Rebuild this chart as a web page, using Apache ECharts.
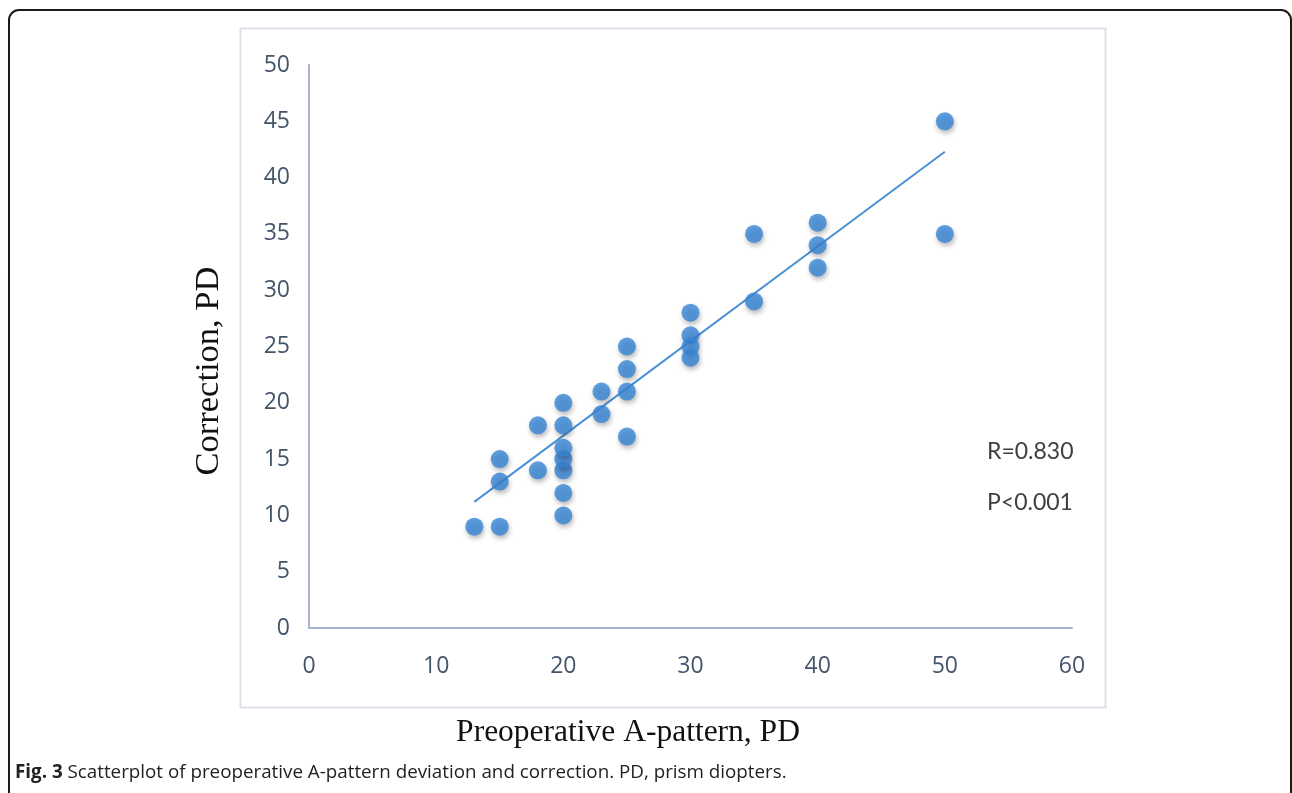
<!DOCTYPE html>
<html>
<head>
<meta charset="utf-8">
<script src="https://cdn.jsdelivr.net/npm/echarts@6/dist/echarts.min.js"></script>
<style>
html,body{margin:0;padding:0;background:#fff;}
#main{width:1292px;height:793px;}
</style>
</head>
<body>
<div id="main"></div>
<script>
// Data
const preopDeviation = [13,15,15,15,18,18,20,20,20,20,20,20,20,23,23,25,25,25,25,30,30,30,30,35,35,40,40,40,50,50];
const correction     = [9, 9, 13,15,14,18,10,12,14,15,16,18,20,21,19,25,23,21,17,28,26,25,24,29,35,36,34,32,45,35];
const trendX = [13, 50];
const trendY = [11.2, 42.3];
const xTicks = [0,10,20,30,40,50,60];
const yTicks = [0,5,10,15,20,25,30,35,40,45,50];
const statsText = ['R=0.830', 'P<0.001'];
const captionBold = 'Fig. 3';
const captionText = ' Scatterplot of preoperative A-pattern deviation and correction. PD, prism diopters.';
const xTitle = 'Preoperative A-pattern, PD';
const yTitle = 'Correction, PD';

const points = preopDeviation.map((x, i) => [x, correction[i]]);
const trend = trendX.map((x, i) => [x, trendY[i]]);

const chart = echarts.init(document.getElementById('main'), null, {renderer: 'canvas'});
const axisColor = '#a8b1cf';
const labelColor = '#44546a';
chart.setOption({
  animation: false,
  backgroundColor: '#fff',
  grid: {left: 309, right: 220, top: 65, bottom: 165, containLabel: false},
  xAxis: {
    type: 'value', min: xTicks[0], max: xTicks[xTicks.length - 1], interval: 10,
    axisLine: {show: true, lineStyle: {color: axisColor, width: 2}},
    axisTick: {show: false},
    splitLine: {show: false},
    axisLabel: {color: labelColor, fontSize: 23, fontFamily: 'Open Sans', margin: 27}
  },
  yAxis: {
    type: 'value', min: yTicks[0], max: yTicks[yTicks.length - 1], interval: 5,
    axisLine: {show: true, lineStyle: {color: axisColor, width: 2}},
    axisTick: {show: false},
    splitLine: {show: false},
    axisLabel: {color: labelColor, fontSize: 23, fontFamily: 'Open Sans', margin: 19}
  },
  series: [
    {
      type: 'line', data: trend, symbol: 'none', z: 2,
      lineStyle: {color: '#4a90d6', width: 2}
    },
    {
      type: 'scatter', data: points, symbol: 'circle', symbolSize: 18, z: 3,
      itemStyle: {
        color: '#3685d6',
        shadowColor: 'rgba(0,0,0,0.35)', shadowBlur: 5, shadowOffsetX: 1, shadowOffsetY: 3
      }
    }
  ],
  graphic: [
    {type: 'rect', shape: {x: 9, y: 10, width: 1282, height: 820, r: 10},
     style: {fill: 'none', stroke: '#1a1a1a', lineWidth: 2}, z: 0, silent: true},
    {type: 'rect', shape: {x: 240.5, y: 28.5, width: 865, height: 679},
     style: {fill: 'none', stroke: '#dde1ea', lineWidth: 2}, z: 0, silent: true},
    {type: 'text', x: 987, y: 452, style: {text: statsText[0], fill: '#404040', font: '23px Lato', textVerticalAlign: 'middle'}},
    {type: 'text', x: 987, y: 503, style: {text: statsText[1], fill: '#404040', font: '23px Lato', textVerticalAlign: 'middle'}},
    {type: 'text', x: 209, y: 371, rotation: Math.PI / 2,
     style: {text: yTitle, fill: '#111', font: '34.5px "Liberation Serif"', textAlign: 'center', textVerticalAlign: 'middle'}},
    {type: 'text', x: 628, y: 733,
     style: {text: xTitle, fill: '#111', font: '31.5px "Liberation Serif"', textAlign: 'center', textVerticalAlign: 'middle'}},
    {type: 'text', x: 15, y: 773,
     style: {rich: {b: {font: 'bold 18.8px "Open Sans"', fill: '#222'}, n: {font: '18.8px "Open Sans"', fill: '#222'}},
             text: '{b|' + captionBold + '}{n|' + captionText + '}', textVerticalAlign: 'middle'}}
  ]
});
</script>
</body>
</html>
